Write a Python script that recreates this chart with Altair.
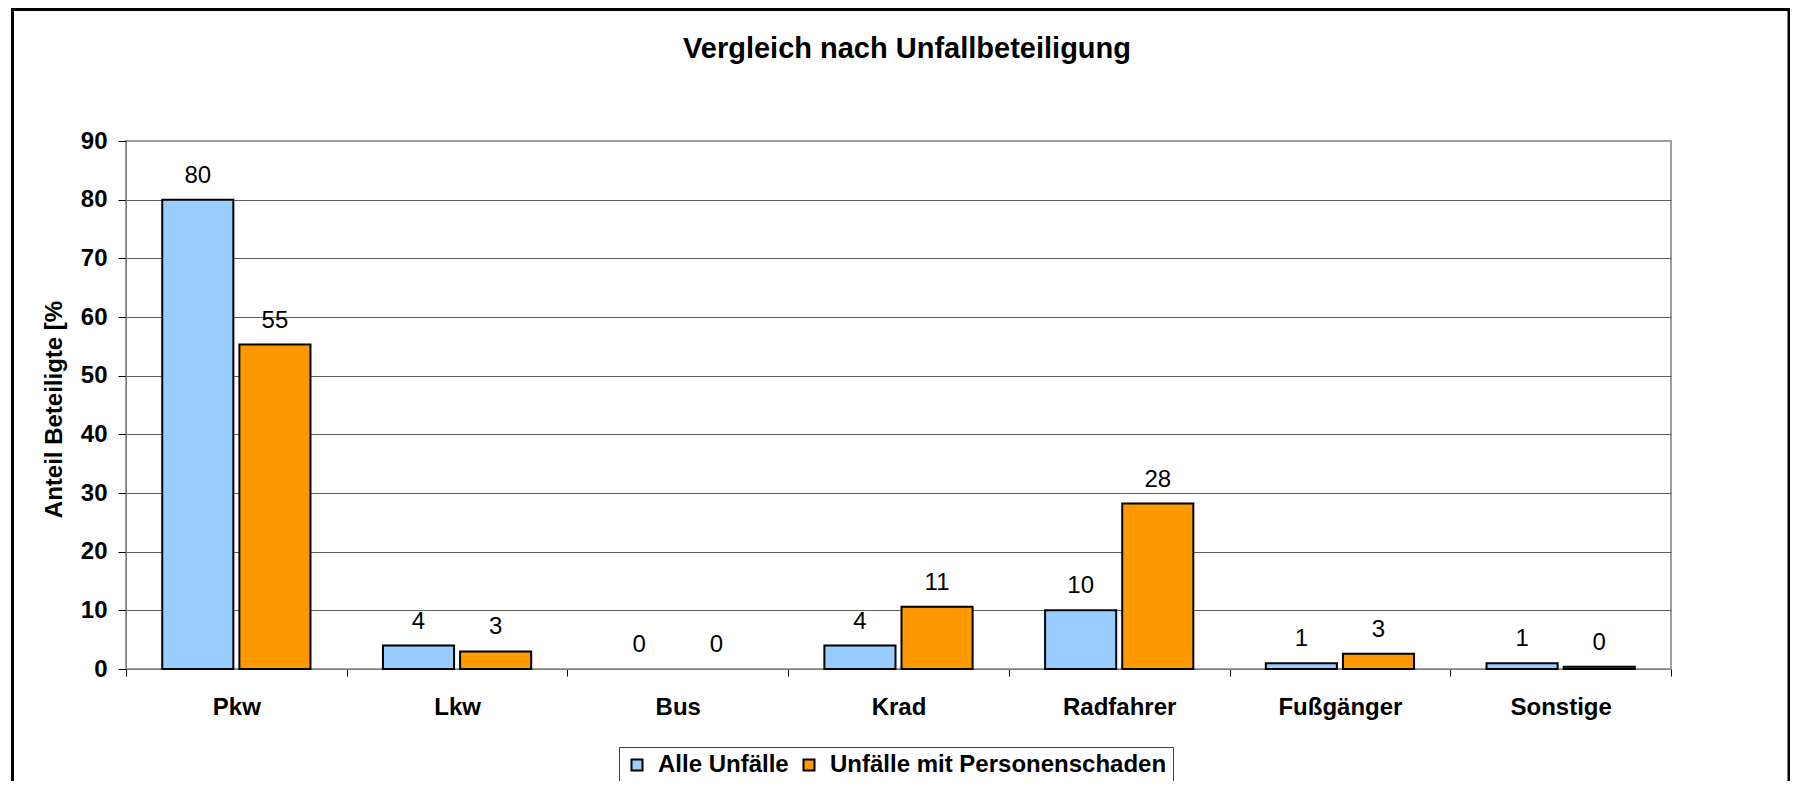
import altair as alt
import pandas as pd

chart_title = "Vergleich nach Unfallbeteiligung"
y_title = "Anteil Beteiligte [%"
categories = ["Pkw", "Lkw", "Bus", "Krad", "Radfahrer", "Fußgänger", "Sonstige"]
series_names = ["Alle Unfälle", "Unfälle mit Personenschaden"]
alle_unfaelle = [80.0, 4.0, 0.0, 4.0, 10.0, 1.0, 1.0]
mit_personenschaden = [55.3, 3.0, 0.0, 10.6, 28.2, 2.6, 0.4]
colors = ["#99CCFF", "#FF9900"]
y_ticks = [0, 10, 20, 30, 40, 50, 60, 70, 80, 90]

rows = []
for c, a, p in zip(categories, alle_unfaelle, mit_personenschaden):
    rows.append({"Kategorie": c, "Serie": series_names[0], "Wert": a})
    rows.append({"Kategorie": c, "Serie": series_names[1], "Wert": p})
df = pd.DataFrame(rows)

FONT = "Liberation Sans"

x_enc = alt.X(
    "Kategorie:N", sort=categories,
    scale=alt.Scale(paddingInner=0, paddingOuter=0),
    axis=alt.Axis(title=None, labelAngle=0, labelFont=FONT, labelFontSize=24,
                  labelFontWeight="bold", labelColor="black", labelPadding=19,
                  tickBand="extent", tickSize=7, tickColor="black",
                  domainColor="#808080", grid=False),
)
xoff = alt.XOffset("Serie:N", sort=series_names,
                   scale=alt.Scale(paddingInner=0.078, paddingOuter=0.47))
y_enc = alt.Y(
    "Wert:Q", scale=alt.Scale(domain=[0, 90], nice=False),
    axis=alt.Axis(values=y_ticks, title=y_title,
                  titleFont=FONT, titleFontSize=24, titleFontWeight="bold",
                  titleColor="black", titleX=-72, titleY=268, titleAngle=270,
                  titleAlign="center", titleBaseline="middle",
                  labelFont=FONT, labelFontSize=24, labelFontWeight="bold",
                  labelColor="black", labelPadding=11, tickSize=8,
                  tickColor="black", domainColor="#808080",
                  gridColor={"condition": {"test": "datum.value == 90", "value": "#A0A0A0"},
                             "value": "#606060"},
                  gridWidth=1),
)
color = alt.Color(
    "Serie:N", sort=series_names,
    scale=alt.Scale(domain=series_names, range=colors),
    legend=alt.Legend(title=None, orient="none", legendX=493, legendY=606,
                      direction="horizontal", symbolType="square", symbolSize=121,
                      symbolStrokeColor="black", symbolStrokeWidth=2,
                      labelFont=FONT, labelFontSize=24, labelFontWeight="bold",
                      labelColor="black", strokeColor="#404040", padding=6,
                      columnPadding=8, labelOffset=9, fillColor="white",
                      labelLimit=0),
)

base = alt.Chart(df)
bars = base.mark_bar(stroke="black", strokeWidth=2).encode(
    x=x_enc, xOffset=xoff, y=y_enc, color=color
).transform_filter("datum.Wert > 0")

labels = base.mark_text(font=FONT, fontSize=24, color="black",
                        baseline="alphabetic", dy=-17).encode(
    x=x_enc, xOffset=xoff, y=y_enc,
    text=alt.Text("Wert:Q", format=".0f"),
)

title_mark = alt.Chart(alt.Data(values=[{"t": chart_title}])).mark_text(
    font=FONT, fontSize=29, fontWeight="bold", color="black",
    align="center", baseline="alphabetic"
).encode(x=alt.value(781), y=alt.value(-83), text="t:N")

frame = alt.Chart(alt.Data(values=[{"f": 1}])).mark_rect(
    fillOpacity=0, stroke="black", strokeWidth=3
).encode(x=alt.value(-113.5), x2=alt.value(1663), y=alt.value(-131.5), y2=alt.value(700))

chart = alt.layer(bars, labels, title_mark, frame).properties(
    width=1545, height=528,
    autosize=alt.AutoSizeParams(type="none"),
    padding={"left": 118, "top": 133, "right": 119, "bottom": 112},
).configure_view(stroke="#A0A0A0", strokeWidth=2)

chart.save("out.html", embed_options={"renderer": "svg", "actions": False})
